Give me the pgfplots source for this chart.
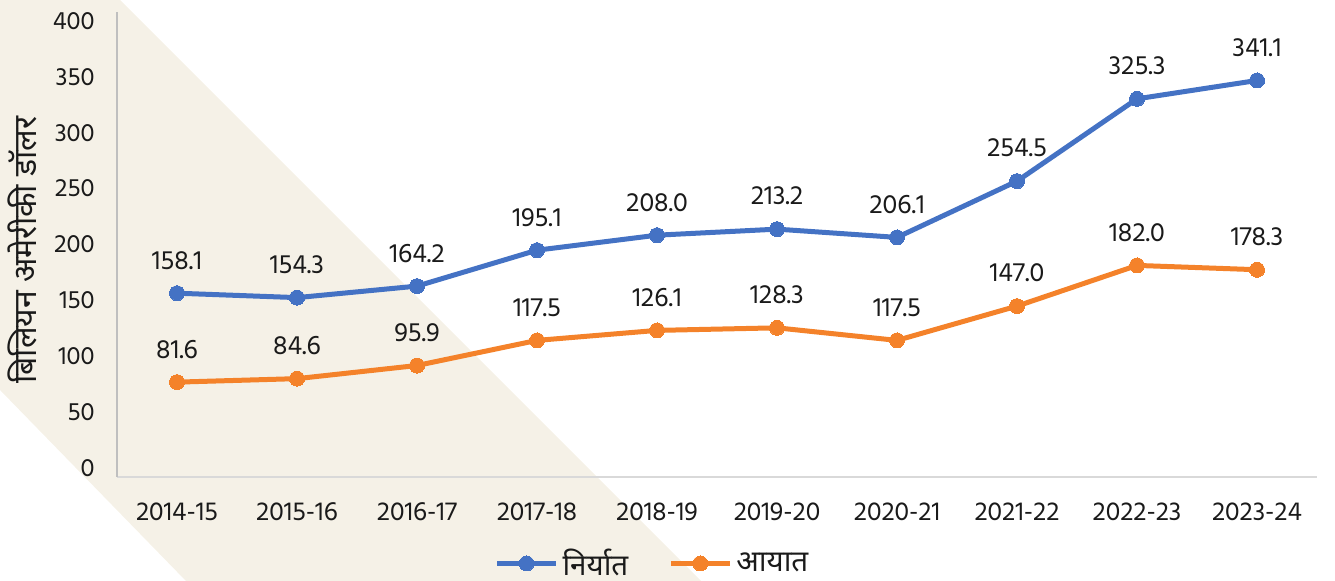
\documentclass[border=0pt]{standalone}
\usepackage{fontspec}
\setmainfont{Hind Siliguri}
\newfontfamily\deva[Script=Devanagari]{Noto Sans}
\usepackage{pgfplots}
\usepackage{pgfplotstable}
\pgfplotsset{compat=1.18}
\definecolor{bg}{HTML}{F5F1E7}
\definecolor{cblue}{HTML}{4472C4}
\definecolor{corange}{HTML}{F4822A}
\definecolor{axl}{HTML}{BFBFBF}
\definecolor{axb}{HTML}{D9D9D9}
\definecolor{lbl}{HTML}{1A1A1A}

\pgfplotstableread{
x y label
0 158.1 158.1
1 154.3 154.3
2 164.2 164.2
3 195.1 195.1
4 208.0 208.0
5 213.2 213.2
6 206.1 206.1
7 254.5 254.5
8 325.3 325.3
9 341.1 341.1
}\exports

\pgfplotstableread{
x y label
0 81.6 81.6
1 84.6 84.6
2 95.9 95.9
3 117.5 117.5
4 126.1 126.1
5 128.3 128.3
6 117.5 117.5
7 147.0 147.0
8 182.0 182.0
9 178.3 178.3
}\imports

\begin{document}
\begin{tikzpicture}
\useasboundingbox (0,0) rectangle (667.5pt,290.5pt);
\fill[bg] (0,290.5pt) -- (60pt,290.5pt) -- (350.5pt,0) -- (93pt,0) -- (0,95.5pt) -- cycle;
\begin{axis}[
  at={(58.5pt,52pt)}, anchor=south west,
  scale only axis, width=600pt, height=232.5pt,
  xmin=-0.5, xmax=9.5, ymin=0, ymax=400,
  clip=false,
  axis lines*=left,
  axis line style={-},
  x axis line style={draw=axb, line width=1pt},
  y axis line style={draw=axl, line width=1pt},
  tick style={draw=none},
  major tick length=0pt,
  xtick={0,...,9},
  xticklabels={2014-15,2015-16,2016-17,2017-18,2018-19,2019-20,2020-21,2021-22,2022-23,2023-24},
  ytick={7.74,55.8,103.9,151.9,200.0,248.1,296.1,344.2,392.3},
  yticklabels={0,50,100,150,200,250,300,350,400},
  xticklabel style={anchor=center, yshift=-17.5pt, font=\fontsize{13.3}{15}\selectfont, text=lbl},
  yticklabel style={anchor=east, inner sep=0pt, xshift=-11pt, font=\fontsize{12.8}{15}\selectfont, text=lbl},
  ylabel={\deva\bfseries बिलियन अमेरीकी डॉलर},
  ylabel style={at={(axis description cs:-0.0792,0.488)}, anchor=center, font=\fontsize{16}{18}\selectfont, text=lbl},
  nodes near coords,
  point meta=explicit symbolic,
  every node near coord/.append style={anchor=center, yshift=16.5pt, font=\fontsize{13.5}{15}\selectfont, text=lbl},
  legend style={at={(0.447,-0.186)}, anchor=center, draw=none, fill=none,
    inner sep=0pt, font=\deva\fontsize{14.8}{16}\selectfont, text=lbl,
    /tikz/every even column/.append style={column sep=18pt}},
  legend columns=2,
  legend image code/.code={\draw[mark repeat=2,mark phase=2,#1] plot coordinates {(0pt,0pt) (14.75pt,0pt) (29.5pt,0pt)};},
]
\addplot[cblue, line width=2.5pt, mark=*, mark size=3.75pt, mark options={solid, fill=cblue, draw=cblue, line width=0pt}] table[x=x, y=y, meta=label] {\exports};
\addlegendentry{निर्यात}
\addplot[corange, line width=2.5pt, mark=*, mark size=3.75pt, mark options={solid, fill=corange, draw=corange, line width=0pt}] table[x=x, y=y, meta=label] {\imports};
\addlegendentry{आयात}
\end{axis}
\end{tikzpicture}
\end{document}
